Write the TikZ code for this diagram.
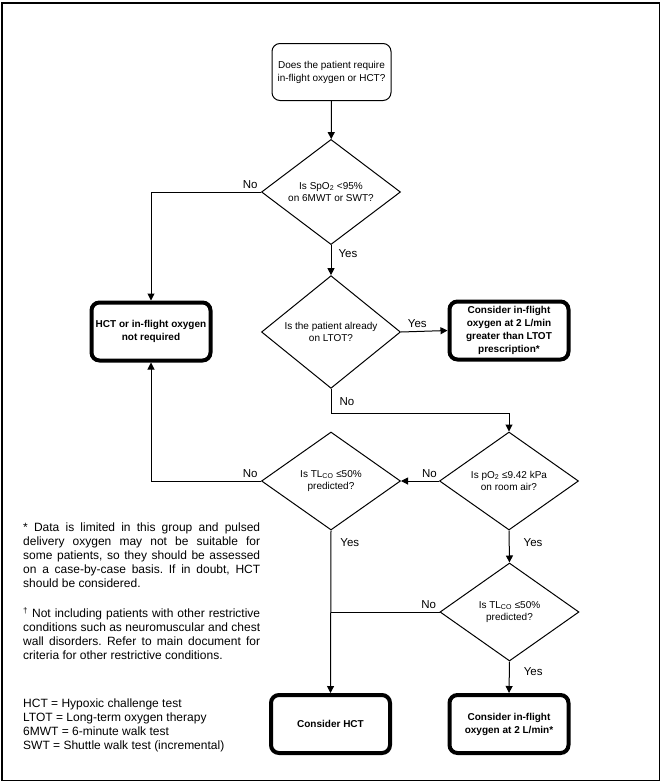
\documentclass[tikz,border=0pt]{standalone}
\usepackage{fontspec}
\setmainfont{Liberation Sans}
\usepackage{tikz}
\usetikzlibrary{shapes.geometric, arrows.meta, positioning}
\newcommand\notefont{\fontsize{12}{14}\selectfont\frenchspacing\hyphenpenalty=10000 \exhyphenpenalty=10000 \spaceskip=.278em plus .6em minus .02em\relax}

\begin{document}
\begin{tikzpicture}[x=1pt, y=-1pt, >={Triangle[length=7pt, width=7pt]},
	question/.style = {draw, diamond, line width=1pt, minimum width=139pt, minimum height=98pt, inner sep=0pt, align=center, font=\fontsize{10}{12.5}\selectfont},
	outcome/.style = {draw, line width=4pt, rounded corners=8pt, minimum width=119pt, minimum height=58pt, align=center, font=\fontsize{10}{13}\selectfont\bfseries},
	answer/.style = {font=\fontsize{11.5}{14}\selectfont},
	notetext/.style = {anchor=north west, inner sep=0pt, font=\notefont},
	link/.style = {line width=1pt}]
			\useasboundingbox (0,0) rectangle (661,782);
			\draw[line width=1.5pt] (2,3) rectangle (659.5,780.5);
			
			\node[draw, line width=1pt, rounded corners=8pt, minimum width=119pt, minimum height=57pt, align=center, font=\fontsize{10}{13}\selectfont] (start) at (331.5,72) {Does the patient require\\in-flight oxygen or HCT?};
			\node[question] (spo) at (331,192) {Is SpO\textsubscript{2} <95\%\\on 6MWT or SWT?};
			\node[question] (ltot) at (331,332) {Is the patient already\\on LTOT?};
			\node[outcome] (none) at (151,331.5) {HCT or in-flight oxygen\\not required};
			\node[outcome] (ltotrx) at (509,330.5) {Consider in-flight\\oxygen at 2 L/min\\greater than LTOT\\prescription*};
			\node[question] (po2) at (509,481) {Is pO\textsubscript{2} ≤9.42 kPa\\on room air?};
			\node[question] (tlco) at (331,481) {Is TL\textsubscript{CO} ≤50\%\\predicted?};
			\node[question] (tlcob) at (509.5,612) {Is TL\textsubscript{CO} ≤50\%\\predicted?};
			\node[outcome] (hct) at (330.5,724) {Consider HCT};
			\node[outcome] (flight) at (509,724) {Consider in-flight\\oxygen at 2 L/min*};
			
			\draw[link, ->] (start) -- (spo);
			\draw[link, ->] (spo.west) -| node[answer, pos=0, above left, inner sep=3pt] {No} (none.north);
			\draw[link, ->] (spo.south) -- node[answer, pos=0.27, right, inner sep=7pt] {Yes} (ltot.north);
			\draw[link, ->] (ltot.east) -- node[answer, pos=0.35, above] {Yes} (ltotrx.west);
			\draw[link, ->] (ltot.south) -- node[answer, midway, right, inner sep=8pt] {No} ++(0,25) -| (po2.north);
			\draw[link, ->] (po2.west) -- node[answer, pos=0.25, above] {No} (tlco.east);
			\draw[link, ->] (tlco.west) -| node[answer, pos=0, above left, inner sep=3pt] {No} (none.south);
			\draw[link, ->] (tlco.south) -- node[answer, pos=0.074, right, inner sep=9pt] {Yes} (hct.north);
			\draw[link, ->] (po2.south) -- node[answer, pos=0.375, right, inner sep=14pt] {Yes} (tlcob.north);
			\draw[link] (tlcob.west) -- node[answer, pos=0, above left, inner sep=3pt] {No} (tlcob.west -| hct.north);
			\draw[link, ->] (tlcob.south) -- node[answer, pos=0.32, right, inner sep=14pt] {Yes} (flight.north);
			
			% footnotes and abbreviations
			\node[notetext, text width=237pt, align=justify] (notea) at (23,523) {* Data is limited in this group and pulsed delivery oxygen may not be suitable for some patients, so they should be assessed on a case-by-case basis. If in doubt, HCT should be considered.};
			\node[notetext, text width=237pt, align=justify] (noteb) at (23,607) {\textsuperscript{†} Not including patients with other restrictive conditions such as neuromuscular and chest wall disorders. Refer to main document for criteria for other restrictive conditions.};
			\node[notetext, align=left] (abbr) at (23,699) {HCT = Hypoxic challenge test\\LTOT = Long-term oxygen therapy\\6MWT = 6-minute walk test\\SWT = Shuttle walk test (incremental)};
			
			\end{tikzpicture}
\end{document}
